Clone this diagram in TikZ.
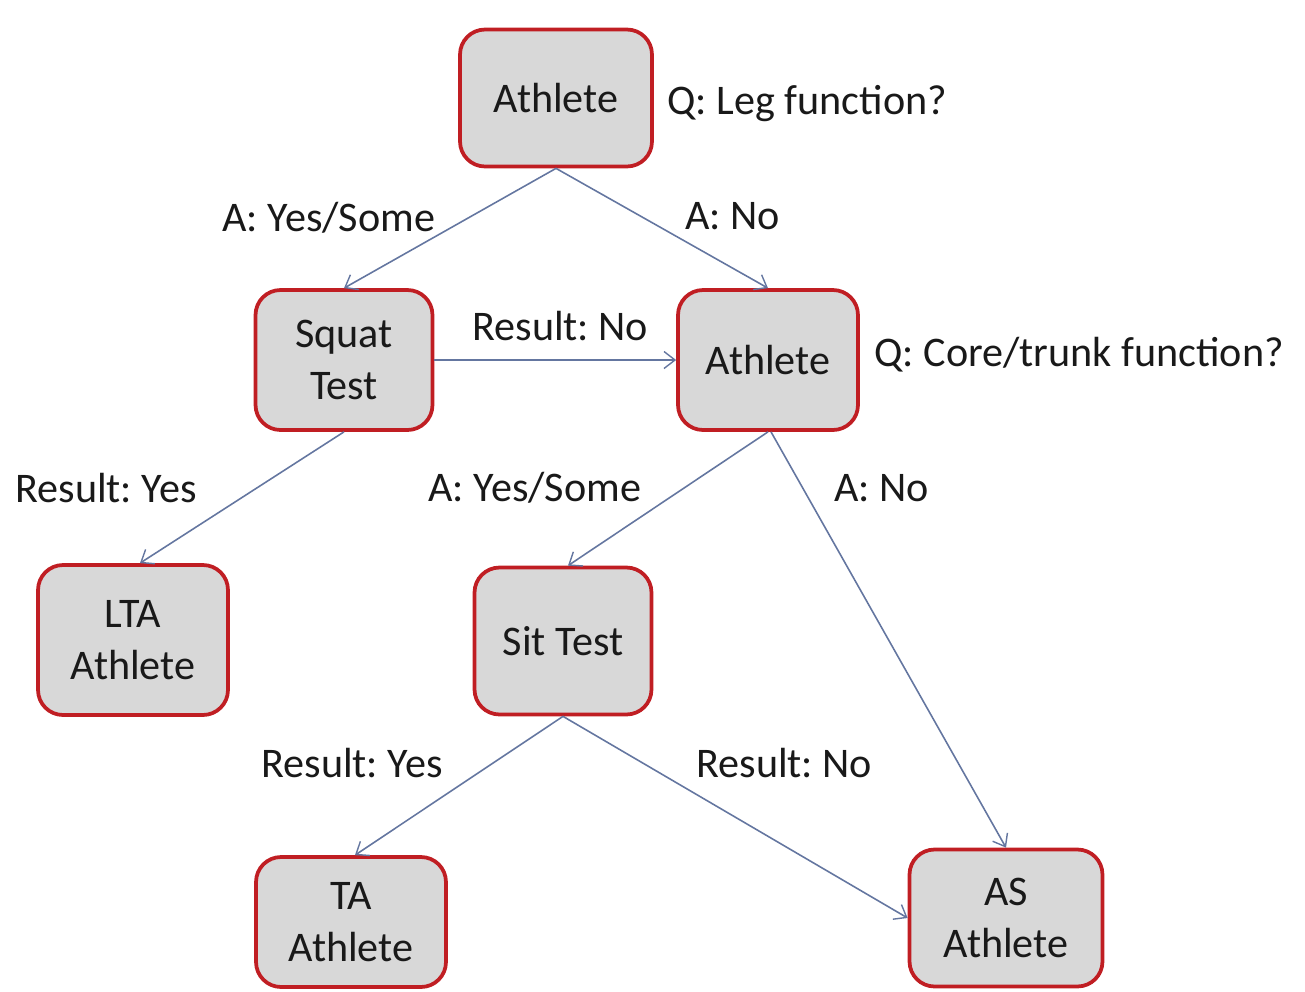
\documentclass[tikz,border=0pt]{standalone}
\usepackage{fontspec}
\setmainfont{Carlito}
\usetikzlibrary{arrows.meta}
\frenchspacing
\definecolor{boxred}{RGB}{192,30,35}
\definecolor{boxfill}{RGB}{216,216,216}
\definecolor{linec}{RGB}{100,118,160}
\definecolor{txt}{RGB}{25,25,25}
\tikzset{
  box/.style={draw=boxred, fill=boxfill, line width=0.075cm, rounded corners=0.5cm,
    align=center, text=txt, font=\fontsize{24}{29.5}\selectfont, inner sep=0pt},
  lbl/.style={text=txt, font=\fontsize{24}{29.5}\selectfont, inner sep=0pt},
  conn/.style={draw=linec, line width=0.9pt, -{Straight Barb[length=0.22cm,width=0.34cm,line width=0.8pt]}}
}
\begin{document}
\begin{tikzpicture}[x=0.02cm,y=-0.02cm]
\useasboundingbox (0,0) rectangle (1305,991);
% boxes
\node[box, minimum width=3.84cm, minimum height=2.74cm] (a1) at (556,98) {Athlete};
\node[box, minimum width=3.54cm, minimum height=2.80cm] (squat) at (344,360) {Squat\\Test};
\node[box, minimum width=3.60cm, minimum height=2.80cm] (a2) at (768,360) {Athlete};
\node[box, minimum width=3.80cm, minimum height=3.00cm] (lta) at (133,640) {LTA\\Athlete};
\node[box, minimum width=3.54cm, minimum height=2.94cm] (sit) at (563,641) {Sit Test};
\node[box, minimum width=3.80cm, minimum height=2.60cm] (ta) at (351,922) {TA\\Athlete};
\node[box, minimum width=3.86cm, minimum height=2.74cm] (as) at (1006,918) {AS\\Athlete};
% labels
\node[lbl, anchor=west] (q1) at (667,104) {Q: Leg function?};
\node[lbl, anchor=west] (q2) at (874,355) {Q: Core/trunk function?};
\node[lbl, anchor=west] (l1) at (222,218) {A: Yes/Some};
\node[lbl, anchor=west] (l2) at (685,216) {A: No};
\node[lbl, anchor=west] (l3) at (472,326) {Result: No};
\node[lbl, anchor=west] (l4) at (15,488) {Result: Yes};
\node[lbl, anchor=west] (l5) at (428,488) {A: Yes/Some};
\node[lbl, anchor=west] (l6) at (834,488) {A: No};
\node[lbl, anchor=west] (l7) at (261,763) {Result: Yes};
\node[lbl, anchor=west] (l8) at (696,763) {Result: No};
% connectors
\draw[conn] (a1.south) -- (squat.north);
\draw[conn] (a1.south) -- (a2.north);
\draw[conn] (squat.east) -- (a2.west);
\draw[conn] (squat.south) -- ([xshift=0.14cm]lta.north);
\draw[conn] (a2.south) -- ([xshift=0.1cm]sit.north);
\draw[conn] ([xshift=0.06cm]a2.south) -- (as.north);
\draw[conn] (sit.south) -- ([xshift=0.08cm]ta.north);
\draw[conn] (sit.south) -- (as.west);
\end{tikzpicture}
\end{document}
